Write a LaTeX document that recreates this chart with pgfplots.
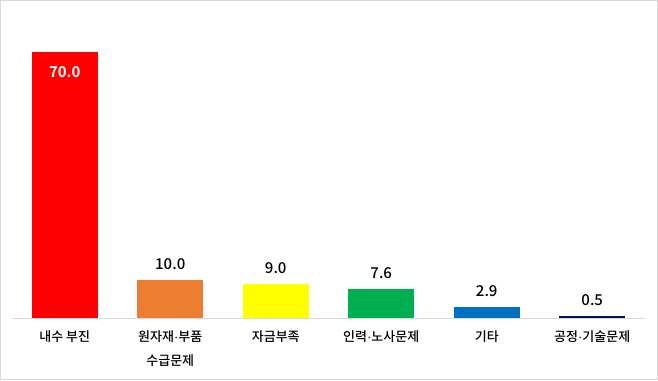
\documentclass[border=0pt]{standalone}
\usepackage{pgfplots}
\pgfplotsset{compat=1.18}
\usepackage{fontspec}
\setmainfont{Noto Sans CJK KR Medium}[BoldFont={Noto Sans CJK KR Bold}]
\newfontfamily\lat{Liberation Sans}
\newcommand{\md}{{\lat ·}}
\definecolor{cRed}{HTML}{FF0000}
\definecolor{cOrange}{HTML}{ED7D31}
\definecolor{cYellow}{HTML}{FFFF00}
\definecolor{cGreen}{HTML}{00B050}
\definecolor{cBlue}{HTML}{0070C0}
\definecolor{cNavy}{HTML}{06104A}
\definecolor{cFrame}{HTML}{D9D9D9}
\begin{document}
\begin{tikzpicture}[x=1pt,y=1pt]
\draw[draw=cFrame, line width=1pt] (0.5,0.5) rectangle (657.5,379.5);
\begin{axis}[
  at={(12pt,62pt)}, anchor=south west,
  scale only axis, width=633pt, height=298pt,
  xmin=-0.5, xmax=5.5, ymin=0, ymax=78.4,
  axis y line=none, axis x line=bottom,
  axis line style={draw=cFrame, line width=1pt, -},
  ytick=\empty,
  xtick={0,1,2,3,4,5},
  xticklabels={내수 부진,{원자재\md 부품\\수급문제},자금부족,인력\md 노사문제,기타,공정\md 기술문제},
  major tick length=0pt,
  xticklabel style={align=center, anchor=north, yshift=-9.5pt, font=\fontsize{13pt}{24pt}\selectfont},
  ybar, bar width=66pt, bar shift=0pt,
  nodes near coords,
  /pgf/number format/fixed, /pgf/number format/fixed zerofill, /pgf/number format/precision=1,
  /pgf/number format/assume math mode=true,
  nodes near coords style={font=\fontsize{15pt}{18pt}\selectfont, text=black, yshift=7pt},
  clip=false,
]
\addplot[fill=cRed, draw=none, nodes near coords style={text=white, font=\bfseries\fontsize{15pt}{18pt}\selectfont, anchor=north, yshift=-18pt}] coordinates {(0,70.0)};
\addplot[fill=cOrange, draw=none] coordinates {(1,10.0)};
\addplot[fill=cYellow, draw=none] coordinates {(2,9.0)};
\addplot[fill=cGreen, draw=none] coordinates {(3,7.6)};
\addplot[fill=cBlue, draw=none] coordinates {(4,2.9)};
\addplot[fill=cNavy, draw=none] coordinates {(5,0.5)};
\end{axis}
\end{tikzpicture}
\end{document}
